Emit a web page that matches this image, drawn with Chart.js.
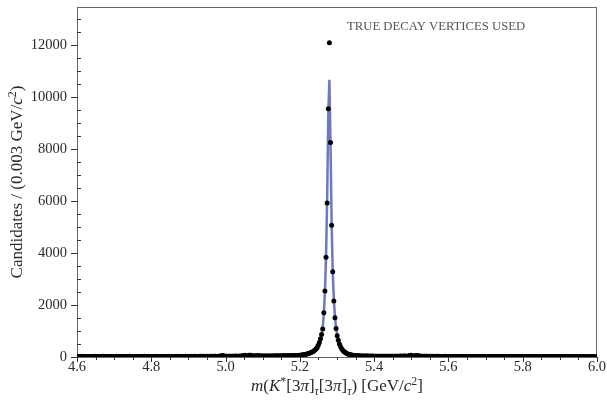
<!DOCTYPE html>
<html lang="en">
<head>
  <meta charset="UTF-8"/>
  <title>m(K*[3pi][3pi]) - true decay vertices</title>
  <script src="https://cdn.jsdelivr.net/npm/chart.js"></script>
  <style>
    html, body { margin: 0; padding: 0; background: #fff; }
  </style>
</head>
<body>
  <canvas id="massChart" width="607" height="401"></canvas>

  <script>
    // histogram binning: 0.003 GeV bins from 4.6
    const binLow = 4.6;
    const binWidth = 0.003;

    // candidates per bin (467 bins)
    const counts = [
      // 4.60 - 5.20
      18,22,15,20,25,17,19,23,16,21,24,18,20,14,22,19,26,17,21,20,
      23,16,19,25,18,21,17,22,20,24,15,19,23,18,21,26,17,20,22,19,
      16,24,21,18,20,23,17,25,19,22,18,21,16,24,20,19,23,17,22,21,
      25,18,20,22,17,24,19,21,23,16,20,25,18,22,19,24,21,17,23,20,
      22,19,26,18,21,24,17,23,20,22,25,19,21,18,24,20,23,26,19,22,
      21,25,20,23,18,26,22,19,24,21,27,20,23,25,19,22,26,21,24,28,
      23,26,22,29,25,24,30,27,33,48,62,45,31,28,26,30,27,32,29,28,
      31,27,34,30,29,33,36,31,45,58,66,52,38,47,63,71,55,42,36,39,
      44,52,61,48,40,37,35,38,36,40,37,41,39,43,40,42,38,45,41,44,
      43,46,42,48,45,47,44,50,46,49,48,52,50,55,53,57,56,60,62,66,
      // 5.20 - 5.38 (peak)
      70,75,82,90,98,108,118,130,145,162,182,205,232,265,305,355,450,560,700,860,
      1080,1700,2540,3830,5920,9540,12080,8240,5060,3280,2150,1510,1100,820,640,500,400,320,262,215,
      180,150,128,110,96,85,76,68,62,57,53,50,47,45,43,41,40,38,37,36,
      // 5.38 - 6.00
      35,36,33,34,32,35,31,33,30,32,31,29,33,30,28,31,29,30,27,29,
      28,30,27,29,31,28,26,30,33,29,35,31,28,34,38,32,30,41,55,64,
      50,36,33,45,58,62,47,32,29,27,30,26,28,25,27,24,26,28,23,25,
      24,22,26,23,25,21,24,22,20,23,25,21,22,19,24,20,22,23,18,21,
      20,22,19,21,18,23,20,17,21,19,22,18,20,16,21,19,17,20,18,22,
      19,17,20,18,16,21,19,17,18,20,15,19,17,18,16,20,18,15,19,17,
      16,18,20,15,17,19,16,18,14,17,19,16,15,18,17,14,16,19,15,17,
      18,15,16,14,17,19,15,16,18,14,17,15,16,13,18,16,15,17,14,16,
      15,17,13,16,14,18,15,13,16,17,14,15,12,16,14,17,15,13,16,14,
      15,13,17,14,12,16,15,13,14,16,12,15,14,13,16,12,14,15,13,14,
      12,15,13,14,12,13,14
    ];

    // fitted curve
    const fitMass = [4.6, 4.8, 5.0, 5.1, 5.15, 5.18, 5.2, 5.21, 5.22, 5.23, 5.24,
      5.2465, 5.2495, 5.2525, 5.2555, 5.2585, 5.2615, 5.2645, 5.2675, 5.2705, 5.2735, 5.2765,
      5.2795, 5.2825, 5.2855, 5.2885, 5.2915, 5.2945, 5.2975, 5.3005, 5.3035, 5.3065, 5.3095,
      5.315, 5.32, 5.33, 5.34, 5.35, 5.37, 5.4, 5.5, 5.7, 6.0];
    const fitValues = [20, 22, 28, 38, 48, 60, 72, 85, 105, 140, 240,
      340, 410, 510, 650, 850, 1150, 1650, 2500, 3850, 6100, 9300,
      10650, 8200, 5150, 3300, 2200, 1550, 1120, 830, 640, 500, 400,
      280, 210, 130, 92, 70, 52, 40, 30, 22, 15];

    const xMajorTicks = [4.6, 4.8, 5.0, 5.2, 5.4, 5.6, 5.8, 6.0];
    const xMinorTicks = [4.65, 4.7, 4.75, 4.85, 4.9, 4.95, 5.05, 5.1, 5.15, 5.25, 5.3, 5.35,
      5.45, 5.5, 5.55, 5.65, 5.7, 5.75, 5.85, 5.9, 5.95];
    const yMajorTicks = [0, 2000, 4000, 6000, 8000, 10000, 12000];
    const yMinorTicks = [500, 1000, 1500, 2500, 3000, 3500, 4500, 5000, 5500, 6500, 7000, 7500,
      8500, 9000, 9500, 10500, 11000, 11500, 12500, 13000];

    const serif = '"Liberation Serif", "DejaVu Serif", serif';
    const textColor = '#2a2a2a';

    const points = counts.map((c, i) => ({ x: binLow + (i + 0.5) * binWidth, y: c }));
    const fitPoints = fitMass.map((m, i) => ({ x: m, y: fitValues[i] }));

    // draw a line of mixed roman / italic / super / subscript pieces, centred on x
    function drawRich(ctx, parts, x, y, size) {
      const fontFor = p => (p.italic ? 'italic ' : '') + (p.sup || p.sub ? size * 0.7 : size) + 'px ' + serif;
      let total = 0;
      parts.forEach(p => { ctx.font = fontFor(p); total += ctx.measureText(p.t).width; });
      let cx = x - total / 2;
      ctx.textAlign = 'left';
      ctx.textBaseline = 'alphabetic';
      parts.forEach(p => {
        ctx.font = fontFor(p);
        const dy = p.sup ? -size * 0.38 : p.sub ? size * 0.22 : 0;
        ctx.fillText(p.t, cx, y + dy);
        cx += ctx.measureText(p.t).width;
      });
    }

    // no extra room for half labels: the frame sits where the layout padding says
    function noScalePadding(s) {
      s.paddingTop = 0;
      s.paddingBottom = 0;
      s.paddingLeft = 0;
      s.paddingRight = 0;
    }

    const decorations = {
      id: 'decorations',
      beforeDatasetsDraw(chart) {
        const { ctx, chartArea: a } = chart;
        ctx.save();
        ctx.strokeStyle = '#666';
        ctx.lineWidth = 1;
        ctx.strokeRect(a.left + 0.5, a.top + 0.5, a.right - a.left - 1, a.bottom - a.top);
        ctx.restore();
      },
      afterDraw(chart) {
        const { ctx, chartArea: a, scales } = chart;
        ctx.save();
        ctx.strokeStyle = '#333';
        ctx.lineWidth = 1;
        ctx.beginPath();
        xMajorTicks.forEach(v => {
          const px = Math.round(scales.x.getPixelForValue(v)) + 0.5;
          ctx.moveTo(px, a.bottom); ctx.lineTo(px, a.bottom + 5);
        });
        xMinorTicks.forEach(v => {
          const px = Math.round(scales.x.getPixelForValue(v)) + 0.5;
          ctx.moveTo(px, a.bottom); ctx.lineTo(px, a.bottom + 3);
        });
        yMajorTicks.forEach(v => {
          const py = Math.round(scales.y.getPixelForValue(v)) + 0.5;
          ctx.moveTo(a.left - 6, py); ctx.lineTo(a.left + 1, py);
        });
        yMinorTicks.forEach(v => {
          const py = Math.round(scales.y.getPixelForValue(v)) + 0.5;
          ctx.moveTo(a.left, py); ctx.lineTo(a.left + 4, py);
        });
        ctx.stroke();

        ctx.fillStyle = textColor;
        // x title
        drawRich(ctx, [
          { t: 'm', italic: true }, { t: '(' }, { t: 'K', italic: true }, { t: '*', sup: true },
          { t: '[3' }, { t: 'π', italic: true }, { t: ']' }, { t: 'τ', italic: true, sub: true },
          { t: '[3' }, { t: 'π', italic: true }, { t: ']' }, { t: 'τ', italic: true, sub: true },
          { t: ') [GeV/' }, { t: 'c', italic: true }, { t: '2', sup: true }, { t: ']' }
        ], (a.left + a.right) / 2, 391, 17);

        // y title
        ctx.save();
        ctx.translate(22, (a.top + a.bottom) / 2);
        ctx.rotate(-Math.PI / 2);
        drawRich(ctx, [
          { t: 'Candidates / (0.003 GeV/' }, { t: 'c', italic: true }, { t: '2', sup: true }, { t: ')' }
        ], 0, 0, 17);
        ctx.restore();

        // label
        ctx.fillStyle = '#555';
        ctx.font = '12.7px ' + serif;
        ctx.textAlign = 'left';
        ctx.textBaseline = 'alphabetic';
        ctx.fillText('TRUE DECAY VERTICES USED', 347, 30);
        ctx.restore();
      }
    };

    const ctx = document.getElementById('massChart').getContext('2d');
    new Chart(ctx, {
      type: 'scatter',
      data: {
        datasets: [{
          label: 'Data',
          data: points,
          pointRadius: 2.5,
          pointBackgroundColor: '#000',
          pointBorderWidth: 0,
          showLine: false
        }, {
          label: 'Fit',
          data: fitPoints,
          showLine: true,
          borderColor: 'rgba(72, 88, 176, 0.8)',
          borderWidth: 2.5,
          pointRadius: 0,
          fill: false,
          tension: 0
        }]
      },
      options: {
        responsive: false,
        animation: false,
        layout: { padding: { top: 7, right: 10, left: 0, bottom: 0 } },
        plugins: {
          legend: { display: false },
          tooltip: { enabled: false }
        },
        scales: {
          x: {
            type: 'linear',
            min: 4.6,
            max: 6.0,
            afterBuildTicks: s => { s.ticks = xMajorTicks.map(v => ({ value: v })); },
            afterFit: s => { s.height = 44; noScalePadding(s); },
            grid: { display: false, drawTicks: false },
            border: { display: false },
            ticks: {
              color: textColor,
              font: { family: serif, size: 14.5 },
              padding: 1,
              maxRotation: 0,
              callback: v => v.toFixed(1)
            }
          },
          y: {
            min: 0,
            max: 13450,
            afterBuildTicks: s => { s.ticks = yMajorTicks.map(v => ({ value: v })); },
            afterFit: s => { s.width = 77; noScalePadding(s); },
            grid: { display: false, drawTicks: false },
            border: { display: false },
            ticks: {
              color: textColor,
              font: { family: serif, size: 14.5 },
              padding: 10,
              callback: v => String(v)
            }
          }
        }
      },
      plugins: [decorations]
    });
  </script>
</body>
</html>
